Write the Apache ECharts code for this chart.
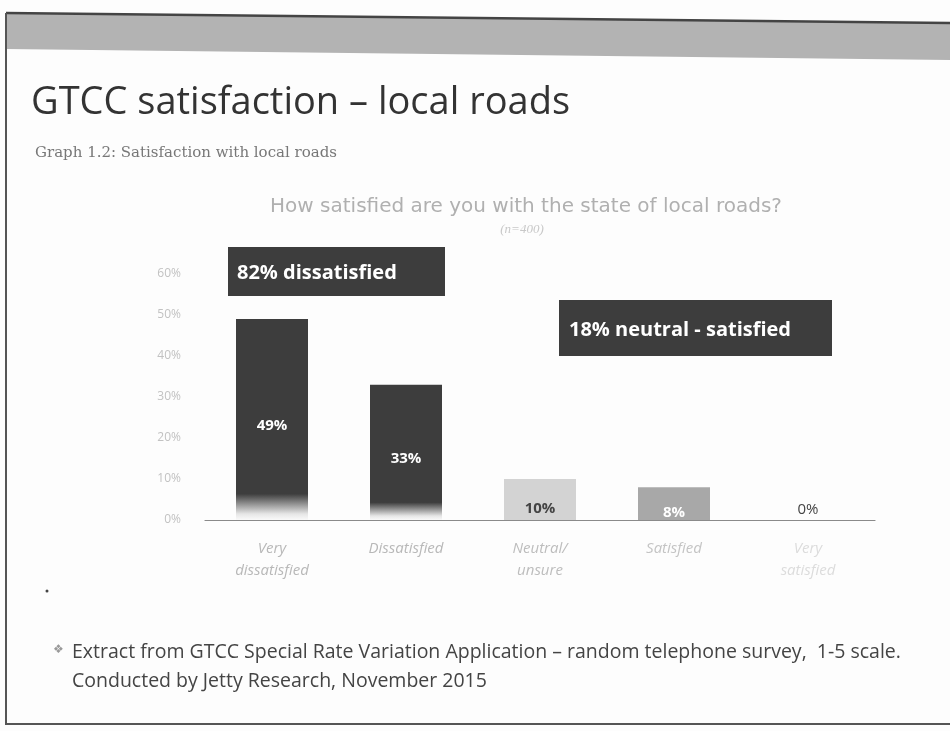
<!DOCTYPE html>
<html>
<head>
<meta charset="utf-8">
<script src="https://cdn.jsdelivr.net/npm/echarts@6/dist/echarts.min.js"></script>
<style>
  html, body { margin: 0; padding: 0; background: #fdfdfd; }
  #chart { width: 950px; height: 731px; }
</style>
</head>
<body>
<div id="chart"></div>
<script>
// Survey categories and share of respondents (%)
const categories = ['Very\ndissatisfied', 'Dissatisfied', 'Neutral/\nunsure', 'Satisfied', 'Very\nsatisfied'];
const shares = [49, 33, 10, 8, 0];
const yTicks = [0, 10, 20, 30, 40, 50, 60];

const barFills = ['#3d3d3d', '#3d3d3d', '#d3d3d3', '#a8a8a8', '#a8a8a8'];
const labelColors = ['#ffffff', '#ffffff', '#444444', '#ffffff', '#444444'];
const catColors = ['#b8b8b8', '#b8b8b8', '#bdbdbd', '#c4c4c4', '#dcdcdc'];

const SLIDE_FONT = '"Open Sans", sans-serif';

// dark bars fade out towards the baseline
function fadeFill(c) {
  return new echarts.graphic.LinearGradient(0, 0, 0, 1, [
    { offset: 0, color: c },
    { offset: 0.87, color: c },
    { offset: 0.97, color: '#e6e6e6' },
    { offset: 1, color: '#fafafa' }
  ]);
}

const chart = echarts.init(document.getElementById('chart'));
chart.setOption({
  backgroundColor: '#fdfdfd',
  animation: false,
  grid: { left: 205, right: 75, top: 274, bottom: 211 },
  xAxis: {
    type: 'category',
    data: categories,
    axisLine: { lineStyle: { color: '#8a8a8a', width: 1.2 } },
    axisTick: { show: false },
    axisLabel: {
      margin: 18,
      fontFamily: SLIDE_FONT,
      fontStyle: 'italic',
      fontSize: 15,
      lineHeight: 22,
      color: (v, i) => catColors[i]
    }
  },
  yAxis: {
    type: 'value',
    min: yTicks[0],
    max: yTicks[yTicks.length - 1],
    interval: 10,
    axisLine: { show: false },
    axisTick: { show: false },
    splitLine: { show: false },
    axisLabel: {
      margin: 24,
      fontFamily: '"Open Sans", sans-serif',
      fontSize: 12,
      color: '#c2c2c2',
      formatter: '{value}%'
    }
  },
  series: [{
    type: 'bar',
    barWidth: 72,
    data: shares.map((v, i) => ({
      value: v,
      itemStyle: { color: i < 2 ? fadeFill(barFills[i]) : barFills[i] },
      label: {
        position: v === 0 ? 'top' : 'inside',
        offset: [0, v === 0 ? 2 : (i < 2 ? 6 : 9)],
        color: labelColors[i],
        fontWeight: v === 0 ? 'normal' : 'bold'
      }
    })),
    label: {
      show: true,
      fontFamily: SLIDE_FONT,
      fontSize: 15,
      formatter: p => p.value + '%'
    }
  }],
  graphic: [
    // slide frame and grey header band
    { type: 'polygon', shape: { points: [[6, 13], [950, 23], [950, 60], [6, 49]] },
      style: { fill: '#b3b3b3' }, z: -1 },
    { type: 'polyline', shape: { points: [[6, 13], [950, 23]] },
      style: { stroke: '#444', lineWidth: 2.5, fill: null } },
    { type: 'polyline', shape: { points: [[6, 13], [6, 724], [950, 724]] },
      style: { stroke: '#555', lineWidth: 2, fill: null } },
    { type: 'text', left: 31, top: 84,
      style: { text: 'GTCC satisfaction \u2013 local roads', font: '38px ' + SLIDE_FONT, fill: '#333' } },
    { type: 'text', left: 35, top: 146,
      style: { text: 'Graph 1.2: Satisfaction with local roads', font: '15px "DejaVu Serif", serif', fill: '#777' } },
    { type: 'text', x: 526, y: 197,
      style: { text: 'How satisfied are you with the state of local roads?', font: '20px "DejaVu Sans", sans-serif', fill: '#b0b0b0', align: 'center' } },
    { type: 'text', x: 522, y: 223,
      style: { text: '(n=400)', font: 'italic 13px "Liberation Serif", serif', fill: '#c8c8c8', align: 'center' } },
    // summary boxes
    { type: 'rect', shape: { x: 228, y: 247, width: 217, height: 49 }, style: { fill: '#3d3d3d' } },
    { type: 'text', left: 237, top: 263,
      style: { text: '82% dissatisfied', font: 'bold 20px ' + SLIDE_FONT, fill: '#fff' } },
    { type: 'rect', shape: { x: 559, y: 300, width: 273, height: 56 }, style: { fill: '#3d3d3d' } },
    { type: 'text', left: 569, top: 320,
      style: { text: '18% neutral - satisfied', font: 'bold 20px ' + SLIDE_FONT, fill: '#fff' } },
    { type: 'circle', shape: { cx: 47, cy: 591, r: 1.5 }, style: { fill: '#444' } },
    // footnote
    { type: 'text', left: 53, top: 644,
      style: { text: '\u2756', font: '12px "DejaVu Sans", sans-serif', fill: '#999' } },
    { type: 'text', left: 72, top: 642,
      style: { text: 'Extract from GTCC Special Rate Variation Application \u2013 random telephone survey,  1-5 scale.', font: '19.5px ' + SLIDE_FONT, fill: '#444' } },
    { type: 'text', left: 72, top: 671,
      style: { text: 'Conducted by Jetty Research, November 2015', font: '19.5px ' + SLIDE_FONT, fill: '#444' } }
  ]
});
</script>
</body>
</html>
